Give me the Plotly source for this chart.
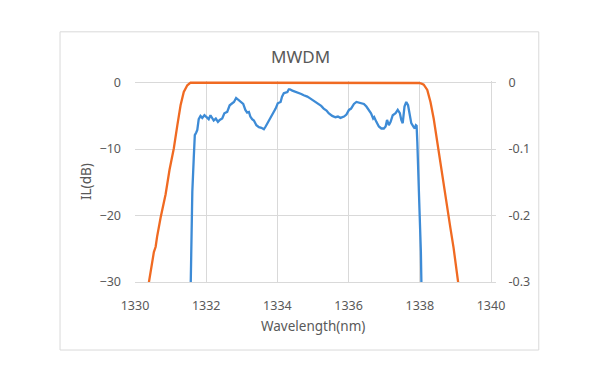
import plotly.graph_objects as go

# ---- data ----
blue_wl = [1331.55, 1331.56, 1331.58, 1331.61, 1331.65, 1331.68, 1331.72, 1331.75, 1331.79, 1331.84,
           1331.89, 1331.95, 1332.01, 1332.07, 1332.12, 1332.17, 1332.21, 1332.27, 1332.33, 1332.38,
           1332.45, 1332.51, 1332.59, 1332.66, 1332.73, 1332.78, 1332.84, 1332.89, 1332.96, 1333.04,
           1333.10, 1333.15, 1333.20, 1333.24, 1333.29, 1333.34, 1333.41, 1333.48, 1333.55, 1333.62,
           1333.67, 1333.73, 1333.81, 1333.88, 1333.95, 1334.01, 1334.09, 1334.13, 1334.18, 1334.23,
           1334.28, 1334.32, 1334.35, 1334.42, 1334.48, 1334.56, 1334.60, 1334.67, 1334.74, 1334.84,
           1334.93, 1335.02, 1335.10, 1335.16, 1335.23, 1335.30, 1335.38, 1335.44, 1335.54, 1335.63,
           1335.70, 1335.77, 1335.87, 1335.94, 1336.01, 1336.07, 1336.15, 1336.22, 1336.29, 1336.35,
           1336.43, 1336.50, 1336.57, 1336.63, 1336.69, 1336.72, 1336.78, 1336.85, 1336.92, 1336.99,
           1337.04, 1337.08, 1337.13, 1337.18, 1337.24, 1337.32, 1337.38, 1337.44, 1337.48, 1337.52,
           1337.57, 1337.62, 1337.67, 1337.72, 1337.76, 1337.82, 1337.86, 1337.89, 1337.91, 1337.93,
           1337.97, 1337.99, 1338.03, 1338.05, 1338.06]
blue_il = [-35.0, -30.4, -23.9, -16.4, -11.4, -7.9, -7.5, -7.1, -5.5, -5.0,
           -5.3, -4.9, -5.2, -5.5, -4.9, -5.4, -5.7, -5.4, -5.9, -5.6,
           -5.4, -4.6, -4.4, -3.4, -3.1, -2.9, -2.3, -2.5, -2.9, -3.2,
           -4.1, -4.5, -4.4, -5.1, -5.5, -5.7, -6.4, -6.7, -6.8, -7.0,
           -6.6, -6.0, -5.4, -4.6, -3.9, -3.1, -2.9, -2.1, -1.6, -1.5,
           -1.4, -1.0, -1.0, -1.2, -1.3, -1.5, -1.6, -1.7, -1.9, -2.1,
           -2.4, -2.7, -3.0, -3.2, -3.5, -3.9, -4.2, -4.6, -5.0, -5.2,
           -5.1, -5.3, -5.1, -4.8, -4.1, -3.9, -3.2, -2.9, -3.0, -3.1,
           -3.2, -3.6, -4.1, -4.6, -5.4, -5.2, -5.9, -6.6, -6.9, -6.9,
           -6.6, -5.6, -6.4, -5.9, -4.9, -4.6, -4.1, -4.6, -5.6, -6.1,
           -3.6, -2.9, -3.4, -5.1, -6.1, -6.6, -6.9, -6.4, -6.5, -8.9,
           -13.9, -18.9, -25.4, -30.4, -35.0]

orange_wl = [1330.30, 1330.39, 1330.48, 1330.53, 1330.58, 1330.62, 1330.72, 1330.86, 1330.97, 1331.09,
             1331.19, 1331.28, 1331.37, 1331.47, 1331.56, 1332.0, 1333.0, 1334.0, 1335.0, 1336.0,
             1337.0, 1337.90, 1337.97, 1338.05, 1338.11, 1338.21, 1338.30, 1338.39, 1338.49, 1338.58,
             1338.67, 1338.77, 1338.86, 1338.95, 1339.05, 1339.10, 1339.15]
orange_il = [-0.330, -0.300, -0.277, -0.255, -0.247, -0.232, -0.203, -0.168, -0.131, -0.099,
             -0.064, -0.034, -0.014, -0.004, 0.0, 0.0, 0.0, 0.0, 0.0, 0.0,
             0.0, 0.0, -0.0005, -0.0015, -0.003, -0.011, -0.029, -0.054, -0.089, -0.124,
             -0.159, -0.194, -0.219, -0.249, -0.284, -0.304, -0.330]

x_ticks = [1330, 1332, 1334, 1336, 1338, 1340]
y1_ticks = [0, -10, -20, -30]
y2_ticks = [0, -0.1, -0.2, -0.3]
y2_labels = ["0", "-0.1", "-0.2", "-0.3"]

TEXT = "#595959"
GRID = "#d9d9d9"
FONT = "Noto Sans"

fig = go.Figure()
fig.add_trace(go.Scatter(x=blue_wl, y=blue_il, mode="lines",
                         line=dict(color="#3D8BD6", width=2.3), yaxis="y", showlegend=False))
fig.add_trace(go.Scatter(x=orange_wl, y=orange_il, mode="lines",
                         line=dict(color="#F06A22", width=2.3), yaxis="y2", showlegend=False))

fig.update_layout(
    width=600, height=383,
    margin=dict(l=134.5, r=109.3, t=80.8, b=100.7),
    paper_bgcolor="white", plot_bgcolor="white",
    font=dict(family=FONT, color=TEXT, size=12),
    xaxis=dict(range=[1330, 1340], tickvals=x_ticks, showgrid=True, gridcolor=GRID, gridwidth=1,
               zeroline=False, showline=True, linecolor=GRID, linewidth=1, ticks="",
               ticklabelstandoff=12, tickfont=dict(size=12.5, color=TEXT)),
    yaxis=dict(range=[-30, 0.25], tickvals=y1_ticks, showgrid=True, gridcolor=GRID, gridwidth=1,
               zeroline=False, showline=False, ticks="", ticklabelstandoff=13,
               tickfont=dict(size=12.5, color=TEXT)),
    yaxis2=dict(range=[-0.3, 0.0025], tickvals=y2_ticks, ticktext=y2_labels, overlaying="y",
                side="right", showgrid=False, zeroline=False, showline=True, linecolor=GRID,
                linewidth=1, ticks="outside", ticklen=4, tickcolor=GRID, ticklabelstandoff=10,
                tickfont=dict(size=12.5, color=TEXT)),
    shapes=[dict(type="rect", xref="paper", yref="paper",
                 x0=(59.5 - 134.5) / 356.2, x1=(538.5 - 134.5) / 356.2,
                 y0=(282.3 - 350.5) / 201.5, y1=(282.3 - 31.5) / 201.5,
                 line=dict(color=GRID, width=1), layer="below")],
    annotations=[
        dict(text="MWDM", xref="paper", yref="paper", x=(300 - 134.5) / 356.2,
             y=(282.3 - 56) / 201.5, showarrow=False, xanchor="center", yanchor="middle",
             font=dict(size=17, color=TEXT, family=FONT)),
        dict(text="Wavelength(nm)", xref="paper", yref="paper", x=0.5,
             y=(282.3 - 326.7) / 201.5, showarrow=False, xanchor="center", yanchor="middle",
             font=dict(size=13.5, color=TEXT, family=FONT)),
        dict(text="IL(dB)", xref="paper", yref="paper", x=(85 - 134.5) / 356.2,
             y=0.5, showarrow=False, xanchor="center", yanchor="middle", textangle=-90,
             font=dict(size=13.5, color=TEXT, family=FONT)),
    ],
)

fig.write_html("out.html")
